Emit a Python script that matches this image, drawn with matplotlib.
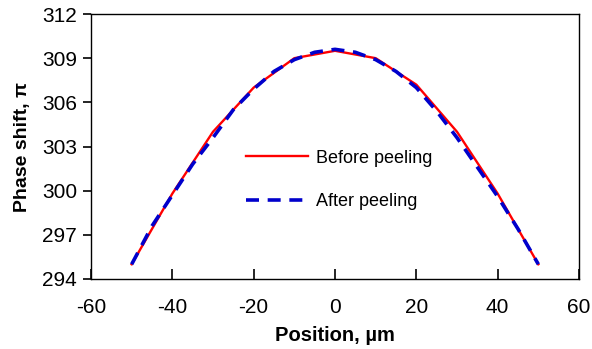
import matplotlib
matplotlib.use("Agg")
import matplotlib.pyplot as plt

plt.rcParams['font.family'] = ['Liberation Sans', 'DejaVu Sans']
plt.rcParams['axes.unicode_minus'] = False

# positions (um) and phase shift (pi)
pos_before = [-50, -40, -30, -20, -10, 0, 10, 20, 30, 40, 50]
before = [295.0, 299.8, 304.0, 307.0, 309.0, 309.5, 309.0, 307.2, 304.0, 299.8, 295.0]

pos_after = [-50, -45, -40, -35, -30, -25, -20, -15, -10, -5, 0,
             5, 10, 15, 20, 25, 30, 35, 40, 45, 50]
after = [295.0, 297.6, 299.7, 301.8, 303.6, 305.5, 306.9, 308.1, 308.9, 309.4, 309.6,
         309.4, 308.9, 308.1, 307.0, 305.4, 303.6, 301.6, 299.6, 297.4, 295.0]

fig = plt.figure(figsize=(5.92, 3.49), dpi=100)
ax = fig.add_axes([91/592, 1 - 279/349, 488/592, 265/349])

ax.plot(pos_before, before, color="red", lw=1.7, label="Before peeling")
ax.plot(pos_after, after, color="#0000cc", lw=2.6, ls=(0, (3.6, 2.4)), label="After peeling")

ax.set_xlim(-60, 60)
ax.set_ylim(294, 312)
ax.set_xticks(range(-60, 61, 20))
ax.set_yticks(range(294, 313, 3))
ax.tick_params(axis="x", direction="in", length=7.5, width=1.2, labelsize=15, pad=14)
ax.tick_params(axis="y", direction="out", length=6, width=1.2, labelsize=15, pad=4)
for s in ax.spines.values():
    s.set_linewidth(1.0)

ax.set_xlabel("Position, \u00b5m", fontsize=14.5, fontweight="bold", labelpad=6)
ax.set_ylabel("Phase shift, \u03c0", fontsize=14, fontweight="bold", labelpad=8)

ax.legend(loc="center left", bbox_to_anchor=(0.318, 0.374), frameon=False,
          borderpad=0, borderaxespad=0,
          fontsize=13, handlelength=3.4, labelspacing=1.45, handletextpad=0.45)

fig.savefig("out.png", dpi=100)
